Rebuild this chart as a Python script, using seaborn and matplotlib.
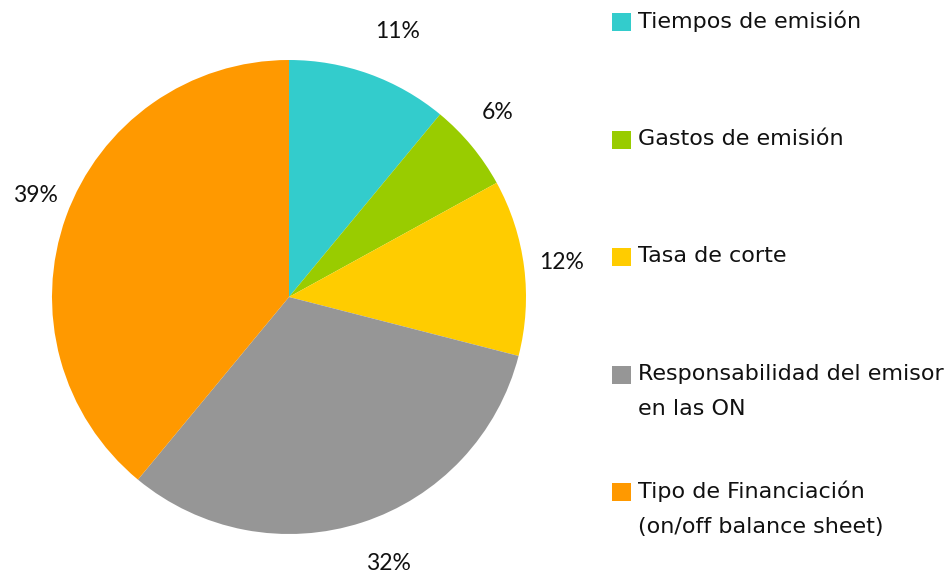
import matplotlib
matplotlib.use("Agg")
import numpy as np
import matplotlib.pyplot as plt
import seaborn as sns
from matplotlib.patches import Rectangle

sns.set_theme(style="white")
plt.rcParams['font.family'] = ['DejaVu Sans']

# ------------------------ DATA ------------------------
categories = ["Tiempos de emisión", "Gastos de emisión", "Tasa de corte",
              "Responsabilidad del emisor\nen las ON",
              "Tipo de Financiación\n(on/off balance sheet)"]
shares = [11, 6, 12, 32, 39]
colors = ["#33CCCC", "#99CC00", "#FFCC00", "#969696", "#FF9900"]

# label placement tweaks (radial distance, angular nudge in degrees)
label_dist = [1.21, 1.175, 1.16, 1.20, 1.15]
label_nudge = [-2.4, 2.0, 0.0, 2.4, -2.0]

W, H = 947, 574
fig = plt.figure(figsize=(W / 100, H / 100), dpi=100)
fig.patch.set_facecolor("white")

# pie axes: centre ~(289, 297) px, radius ~237 px
cx, cy, r = 289, 297, 237
ax = fig.add_axes([(cx - r) / W, (H - cy - r) / H, 2 * r / W, 2 * r / H])
wedges, _, autotexts = ax.pie(
    shares, colors=colors, startangle=90, counterclock=False,
    autopct='%1.0f%%', pctdistance=1.18, radius=1,
    wedgeprops=dict(linewidth=0),
    textprops=dict(fontsize=16.5, color="#111111", family=['Lato', 'DejaVu Sans']))

for w, t, d, n in zip(wedges, autotexts, label_dist, label_nudge):
    theta = np.deg2rad((w.theta1 + w.theta2) / 2 + n)
    t.set_position((d * np.cos(theta), d * np.sin(theta)))

ax.set_xlim(-1, 1)
ax.set_ylim(-1, 1)
ax.set_aspect('equal')
ax.axis('off')

# ------------------------ LEGEND ------------------------
legend_y = [22, 140, 257, 375, 492]
for lab, col, y in zip(categories, colors, legend_y):
    fig.patches.append(Rectangle((612 / W, (H - y - 9) / H), 19 / W, 18 / H,
                                 transform=fig.transFigure, facecolor=col,
                                 edgecolor='none'))
    fig.text(638 / W, (H - y + 11) / H, lab, fontsize=16, color="#111111",
             va='top', ha='left', linespacing=1.92)

fig.savefig("out.png", dpi=100, facecolor="white")
